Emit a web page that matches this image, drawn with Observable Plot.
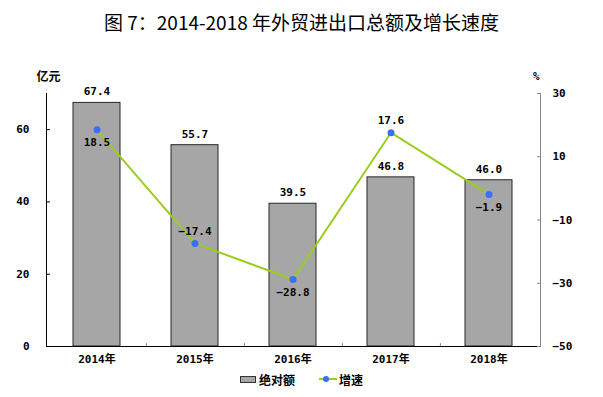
<!DOCTYPE html>
<html><head><meta charset="utf-8">
<script src="https://cdn.jsdelivr.net/npm/d3@7"></script>
<script src="https://cdn.jsdelivr.net/npm/@observablehq/plot@0.6"></script>
<style>
body{margin:0;background:#fff;width:603px;height:397px;overflow:hidden;}
#title{height:60px;box-sizing:border-box;padding-top:10px;text-align:center;font-family:"Noto Sans CJK SC",sans-serif;font-size:19px;line-height:24px;color:#000;}
#legend{display:flex;justify-content:center;align-items:center;height:18px;font-family:"Noto Sans CJK SC",sans-serif;font-size:12px;font-weight:bold;color:#000;padding-left:0px;}
.box{width:14px;height:5px;background:#a6a6a6;border:1px solid #333;margin-right:3px;}
.ln{position:relative;width:18px;height:2px;background:#9acd1e;margin-left:24px;margin-right:2px;}
.ln i{position:absolute;left:4px;top:-2px;width:6px;height:6px;border-radius:50%;background:#3a6ff7;}
</style></head>
<body>
<div id="title">图 7：2014-2018 年外贸进出口总额及增长速度</div>
<div id="chart"></div>
<div id="legend"><span class="box"></span><span>绝对额</span><span class="ln"><i></i></span><span>增速</span></div>
<script>
const years = ["2014年","2015年","2016年","2017年","2018年"];
const amounts = [67.4, 55.7, 39.5, 46.8, 46.0];
const growth = [18.5, -17.4, -28.8, 17.6, -1.9];
const leftTicks = [0, 20, 40, 60];
const rightTicks = [-50, -30, -10, 10, 30];
const leftDomain = [0, 70];
const rightDomain = [-50, 30];

const toY = g => (g - rightDomain[0]) * (leftDomain[1] - leftDomain[0]) / (rightDomain[1] - rightDomain[0]) + leftDomain[0];
const fromY = y => Math.round((y - leftDomain[0]) * (rightDomain[1] - rightDomain[0]) / (leftDomain[1] - leftDomain[0]) + rightDomain[0]);
const fmt = v => (v < 0 ? "−" : "") + Math.abs(v).toFixed(1);
const fmtInt = v => (v < 0 ? "−" : "") + Math.abs(v);

const data = years.map((y, i) => ({year: y, amount: amounts[i], growth: growth[i], gy: toY(growth[i])}));
const above = data.filter((d, i) => i === 1 || i === 3);
const below = data.filter((d, i) => !(i === 1 || i === 3));

const chart = Plot.plot({
  width: 603, height: 310,
  marginTop: 33, marginBottom: 24, marginLeft: 46, marginRight: 63,
  style: {fontFamily: "'DejaVu Sans Mono','Noto Sans CJK SC',monospace", fontSize: "11px", fontWeight: "bold", color: "#000", background: "#fff"},
  x: {domain: years, paddingInner: 0.52, paddingOuter: 0.26, axis: null, label: null},
  y: {domain: leftDomain, axis: null, label: null},
  marks: [
    Plot.barY(data, {x: "year", y: "amount", fill: "#a6a6a6", stroke: "#262626", strokeWidth: 1}),
    Plot.text(data, {x: "year", y: "amount", text: d => fmt(d.amount), dy: -11}),
    Plot.ruleY([0], {stroke: "#000"}),
    Plot.frame({anchor: "left", stroke: "#000"}),
    Plot.frame({anchor: "right", stroke: "#888"}),
    Plot.ruleX(years.slice(0, -1), {x: d => d, dx: 49.4, y1: 0, y2: 0.8, stroke: "#888"}),
    Plot.axisX({tickSize: 0, tickPadding: 9, fontWeight: "bold", label: null}),
    Plot.axisY({ticks: leftTicks, tickSize: -4, tickPadding: 21, tickFormat: d => String(d), stroke: "#000", label: null}),
    Plot.axisY({anchor: "right", ticks: rightTicks.map(toY), tickSize: -4, tickPadding: 16, tickFormat: d => fmtInt(fromY(d)), stroke: "#888", label: null}),
    Plot.line(data, {x: "year", y: "gy", stroke: "#9acd1e", strokeWidth: 2}),
    Plot.dot(data, {x: "year", y: "gy", r: 3.5, fill: "#3a6ff7", stroke: "none"}),
    Plot.text(above, {x: "year", y: "gy", text: d => fmt(d.growth), dy: -12}),
    Plot.text(below, {x: "year", y: "gy", text: d => fmt(d.growth), dy: 13}),
    Plot.text(["亿元"], {frameAnchor: "top-left", text: d => d, dx: -10, dy: -21, fontFamily: "'Noto Sans CJK SC'", fontSize: 12}),
    Plot.text(["%"], {frameAnchor: "top-right", text: d => d, dx: -1, dy: -21})
  ]
});
document.getElementById("chart").appendChild(chart);
</script>
</body></html>
